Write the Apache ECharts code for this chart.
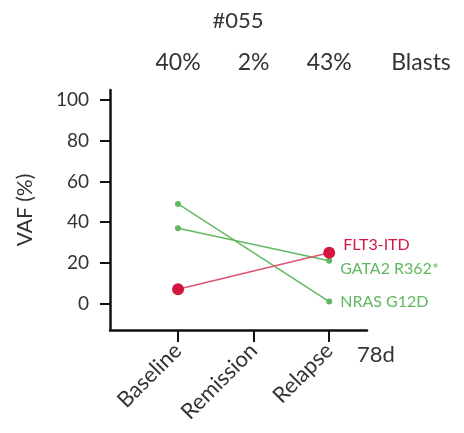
<!DOCTYPE html>
<html>
<head>
<meta charset="utf-8">
<script src="https://cdn.jsdelivr.net/npm/echarts@6/dist/echarts.min.js"></script>
<style>
  html, body { margin: 0; padding: 0; background: #fff; }
  #chart { width: 464px; height: 433px; }
</style>
</head>
<body>
<div id="chart"></div>
<script>
const timepoints = ["Baseline", "Remission", "Relapse"];
const blasts = ["40%", "2%", "43%"];
const yTicks = [0, 20, 40, 60, 80, 100];

// [timepoint index, VAF]
const flt3 = [[0, 7], [2, 25]];
const gata2 = [[0, 37], [2, 21]];
const nras = [[0, 49], [2, 1]];

const red = "#d3163f";
const green = "#62b862";
const font = "Lato";

const chart = echarts.init(document.getElementById("chart"));

function lastLabel(name, color, dy) {
  return {
    show: true,
    position: "right",
    distance: 8,
    offset: [0, dy],
    formatter: name,
    color: color,
    fontFamily: font,
    fontSize: 16
  };
}

function makeSeries(name, data, color, lineColor, size, dy) {
  return {
    name: name,
    type: "line",
    symbol: "circle",
    symbolSize: size,
    itemStyle: { color: color },
    lineStyle: { color: lineColor, width: 1.5 },
    data: data.map((d, i) => i === data.length - 1
      ? { value: d, label: lastLabel(name, color, dy) }
      : { value: d }),
    z: size > 8 ? 3 : 2
  };
}

const option = {
  animation: false,
  grid: { left: 110, right: 97, top: 90, bottom: 103 },
  xAxis: [
    {
      type: "value",
      min: -0.9,
      max: 2.5,
      splitLine: { show: false },
      axisLine: { onZero: false, lineStyle: { color: "#111", width: 2.5 } },
      axisTick: { customValues: [0, 1, 2], length: 12, lineStyle: { color: "#111", width: 2 } },
      axisLabel: {
        customValues: [0, 1, 2],
        formatter: v => timepoints[Math.round(v)],
        rotate: 45,
        margin: 17,
        color: "#333",
        fontFamily: font,
        fontSize: 22
      }
    },
    {
      type: "value",
      position: "top",
      min: -0.9,
      max: 2.5,
      splitLine: { show: false },
      axisLine: { show: false },
      axisTick: { show: false },
      axisLabel: {
        customValues: [0, 1, 2],
        formatter: v => blasts[Math.round(v)],
        margin: 16,
        color: "#333",
        fontFamily: font,
        fontSize: 23
      }
    }
  ],
  yAxis: {
    type: "value",
    min: -13,
    max: 105,
    splitLine: { show: false },
    axisLine: { show: true, onZero: false, lineStyle: { color: "#111", width: 2.5 } },
    axisTick: { show: true, customValues: yTicks, length: 10, lineStyle: { color: "#111", width: 2 } },
    axisLabel: {
      customValues: yTicks,
      margin: 21,
      color: "#333",
      fontFamily: font,
      fontSize: 19
    },
    name: "VAF (%)",
    nameLocation: "middle",
    nameGap: 74,
    nameTextStyle: { color: "#333", fontFamily: font, fontSize: 21 }
  },
  series: [
    makeSeries("GATA2 R362*", gata2, green, green, 6, 8),
    makeSeries("NRAS G12D", nras, green, green, 6, 0),
    makeSeries("FLT3-ITD", flt3, red, "#e0546f", 12, -8)
  ],
  graphic: [
    {
      type: "text",
      x: 238,
      y: 21,
      style: { text: "#055", fill: "#333", font: "22px Lato", align: "center", verticalAlign: "middle" }
    },
    {
      type: "text",
      x: 421,
      y: 63,
      style: { text: "Blasts", fill: "#333", font: "23px Lato", align: "center", verticalAlign: "middle" }
    },
    {
      type: "text",
      x: 357,
      y: 355,
      style: { text: "78d", fill: "#333", font: "22px Lato", align: "left", verticalAlign: "middle" }
    }
  ]
};

chart.setOption(option);
</script>
</body>
</html>
